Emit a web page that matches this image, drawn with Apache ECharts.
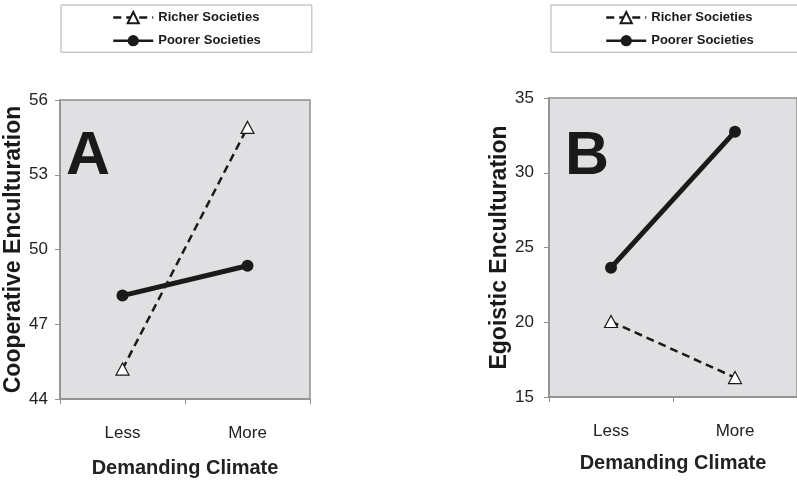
<!DOCTYPE html>
<html><head><meta charset="utf-8">
<script src="https://cdn.jsdelivr.net/npm/echarts@6/dist/echarts.min.js"></script>
<style>html,body{margin:0;padding:0;background:#fff}#c{width:797px;height:483px}</style>
</head><body><div id="c"></div>
<script>
const categories = ['Less', 'More'];
const seriesNames = ['Richer Societies', 'Poorer Societies'];
const coopRicher = [45.2, 54.9];
const coopPoorer = [48.15, 49.35];
const egoRicher = [20.05, 16.3];
const egoPoorer = [23.65, 32.75];
const coopTicks = {min: 44, max: 56, interval: 3};
const egoTicks = {min: 15, max: 35, interval: 5};

const FONT = "'Liberation Sans', Arial, sans-serif";
const GRAY = '#8f8f8f';
const INK = '#1a1a1a';

function xAxis(gi, margin, gap) {
  return {
    type: 'category', gridIndex: gi, data: categories,
    boundaryGap: true,
    axisLine: {show: true, lineStyle: {color: GRAY, width: 1.5}},
    axisTick: {show: true, length: 5, lineStyle: {color: GRAY}},
    axisLabel: {margin: margin, fontFamily: FONT, fontSize: 17, color: '#222'},
    name: 'Demanding Climate', nameLocation: 'middle', nameGap: gap,
    nameTextStyle: {fontFamily: FONT, fontSize: 20, fontWeight: 'bold', color: '#222'}
  };
}
function yAxis(gi, t, name, gap, margin) {
  return {
    type: 'value', gridIndex: gi, min: t.min, max: t.max, interval: t.interval,
    splitLine: {show: false},
    axisLine: {show: true, lineStyle: {color: GRAY, width: 1.5}},
    axisTick: {show: true, length: 5, lineStyle: {color: GRAY}},
    axisLabel: {margin: margin, fontFamily: FONT, fontSize: 17, color: '#222'},
    name: name, nameLocation: 'middle', nameGap: gap,
    nameTextStyle: {fontFamily: FONT, fontSize: 23, fontWeight: 'bold', color: '#1a1a1a'}
  };
}
function richer(gi, data) {
  return {
    name: seriesNames[0], type: 'line', xAxisIndex: gi, yAxisIndex: gi, data: data,
    symbol: 'triangle', symbolSize: [13, 12],
    lineStyle: {color: INK, width: 2.5, type: [8, 5]},
    itemStyle: {color: '#fff', borderColor: INK, borderWidth: 1.2},
    z: 2, animation: false
  };
}
function poorer(gi, data) {
  return {
    name: seriesNames[1], type: 'line', xAxisIndex: gi, yAxisIndex: gi, data: data,
    symbol: 'circle', symbolSize: 12,
    lineStyle: {color: INK, width: 5},
    itemStyle: {color: INK, borderColor: INK, borderWidth: 0},
    z: 3, animation: false
  };
}
function legend(left, padL) {
  return {
    left: left, top: 5, orient: 'vertical', itemGap: 10,
    itemWidth: 40, itemHeight: 14,
    padding: [6, 51, 5, padL],
    borderColor: '#b0b0b0', borderWidth: 1, backgroundColor: '#fff',
    textStyle: {fontFamily: FONT, fontSize: 13, fontWeight: 'bold', color: '#1a1a1a'},
    data: [
      {name: seriesNames[0], lineStyle: {width: 2.5}},
      {name: seriesNames[1], lineStyle: {width: 2.5}}
    ]
  };
}

const chart = echarts.init(document.getElementById('c'), null, {renderer: 'canvas'});
chart.setOption({
  animation: false,
  backgroundColor: '#fff',
  grid: [
    {left: 60, top: 100, width: 250, height: 300, show: true, backgroundColor: '#e0e0e2', borderColor: GRAY, borderWidth: 1.5},
    {left: 549, top: 98, right: -6, bottom: 86, show: true, backgroundColor: '#e0e0e2', borderColor: GRAY, borderWidth: 1.5}
  ],
  legend: [legend(61, 51), legend(551, 54)],
  xAxis: [xAxis(0, 26, 59), xAxis(1, 26, 56)],
  yAxis: [
    yAxis(0, coopTicks, 'Cooperative Enculturation', 30, 12),
    yAxis(1, egoTicks, 'Egoistic Enculturation', 36, 15)
  ],
  graphic: [
    {type: 'text', left: 66, top: 127, style: {text: 'A', fontFamily: FONT, fontSize: 61, fontWeight: 'bold', fill: '#1a1a1a'}},
    {type: 'text', left: 565, top: 127, style: {text: 'B', fontFamily: FONT, fontSize: 61, fontWeight: 'bold', fill: '#1a1a1a'}}
  ],
  series: [
    richer(0, coopRicher), poorer(0, coopPoorer),
    richer(1, egoRicher), poorer(1, egoPoorer)
  ]
});
</script></body></html>
